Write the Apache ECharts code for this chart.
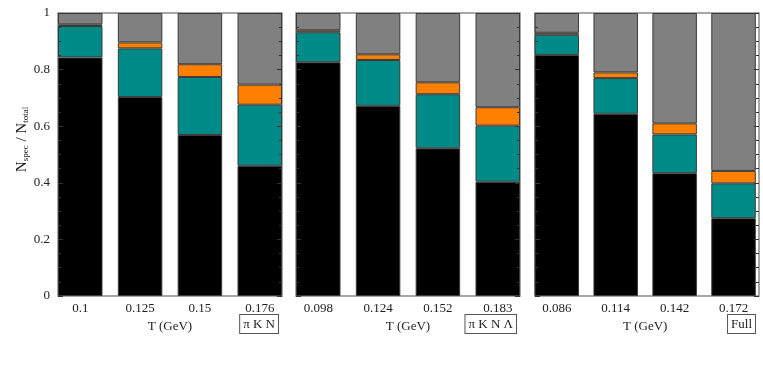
<!DOCTYPE html>
<html><head><meta charset="utf-8">
<script src="https://cdn.jsdelivr.net/npm/echarts@6/dist/echarts.min.js"></script>
<style>html,body{margin:0;padding:0;background:#fff}#c{width:763px;height:382px}</style>
</head><body><div id="c"></div>
<script>
// Temperatures (category labels) per panel
const cats1 = ['0.1', '0.125', '0.15', '0.176'];
const cats2 = ['0.098', '0.124', '0.152', '0.183'];
const cats3 = ['0.086', '0.114', '0.142', '0.172'];
const panelTags = ['π K N', 'π K N Λ', 'Full'];

// Fractions N_spec/N_total (stacked segments, bottom to top)
const black1  = [0.843, 0.703, 0.569, 0.460];
const teal1   = [0.111, 0.172, 0.205, 0.216];
const orange1 = [0.006, 0.021, 0.045, 0.071];
const gray1   = [0.040, 0.104, 0.181, 0.253];

const black2  = [0.826, 0.672, 0.522, 0.404];
const teal2   = [0.106, 0.162, 0.191, 0.198];
const orange2 = [0.007, 0.020, 0.042, 0.065];
const gray2   = [0.061, 0.146, 0.245, 0.333];

const black3  = [0.852, 0.644, 0.434, 0.275];
const teal3   = [0.071, 0.126, 0.137, 0.123];
const orange3 = [0.007, 0.020, 0.039, 0.044];
const gray3   = [0.070, 0.210, 0.390, 0.558];

const yTicks = ['0', '0.2', '0.4', '0.6', '0.8', '1'];

const FONT = 'Liberation Serif';
const lefts = [58, 296, 535];
const W = 224, TOP = 13, H = 283;
const BAR = 44.5;
const BAND = (W - BAR) / 3;          // category spacing so bars are flush with frame
const PAD = (BAND - BAR) / 2;
const allCats = [cats1, cats2, cats3];
const panels = [
  [black1, teal1, orange1, gray1],
  [black2, teal2, orange2, gray2],
  [black3, teal3, orange3, gray3]
];
const colors = ['#000000', '#008b88', '#ff8000', '#808080'];

const grid = [], xAxis = [], yAxis = [], series = [], graphic = [];
lefts.forEach((l, i) => {
  // frame grid (index 2i) carrying the y ticks
  grid.push({left: l, top: TOP, width: W, height: H, show: true, borderColor: '#8a8a8a', borderWidth: 1.5, backgroundColor: 'transparent'});
  // bar grid (index 2i+1)
  grid.push({left: l - PAD, top: TOP, width: BAND * 4, height: H, show: false});

  xAxis.push({type: 'category', gridIndex: 2 * i, data: allCats[i], show: false});
  xAxis.push({
    type: 'category', gridIndex: 2 * i + 1, data: allCats[i],
    axisLine: {show: false}, axisTick: {show: false},
    axisLabel: {fontFamily: FONT, fontSize: 13, color: '#222', margin: 6},
    name: 'T (GeV)', nameLocation: 'middle', nameGap: 22,
    nameTextStyle: {fontFamily: FONT, fontSize: 13, color: '#222'}
  });

  const yBase = {
    type: 'value', gridIndex: 2 * i, min: 0, max: 1, interval: 0.2, z: 5,
    splitLine: {show: false}, axisLine: {show: false},
    axisTick: {show: true, inside: true, length: 5, lineStyle: {color: '#333'}},
    minorTick: {show: true, splitNumber: 4, length: 3, lineStyle: {color: '#333'}}
  };
  yAxis.push(Object.assign({}, yBase, {
    position: 'left',
    axisLabel: {show: i === 0, fontFamily: FONT, fontSize: 13, color: '#222', margin: 8,
      formatter: v => yTicks[Math.round(v * 5)]},
    name: i === 0 ? 'N{s|spec} / N{s|total}' : '',
    nameLocation: 'middle', nameGap: 24, nameRotate: 90,
    nameTextStyle: {fontFamily: FONT, fontSize: 15, color: '#222', padding: [0, 0, 0, 30],
      rich: {s: {fontFamily: FONT, fontSize: 9, color: '#222', padding: [7, 0, 0, 0]}}}
  }));
  yAxis.push(Object.assign({}, yBase, {position: 'right', axisLabel: {show: false}}));
  // hidden y axis for the bar grid (index 3i+2)
  yAxis.push({type: 'value', gridIndex: 2 * i + 1, min: 0, max: 1, interval: 0.2, show: false, splitLine: {show: false}});

  panels[i].forEach((d, k) => {
    series.push({
      type: 'bar', xAxisIndex: 2 * i + 1, yAxisIndex: 3 * i + 2, stack: 'p' + i, data: d,
      barWidth: BAR,
      itemStyle: {color: colors[k], borderColor: '#3a3a3a', borderWidth: 1},
      emphasis: {disabled: true}, animation: false
    });
  });
  graphic.push({
    type: 'text', right: 763 - (l + W - 3), top: 314,
    style: {text: panelTags[i], font: '13px "Liberation Serif"', fill: '#222',
      borderColor: '#555', borderWidth: 1, padding: [3, 3, 2, 3], backgroundColor: '#fff'}
  });
});

const chart = echarts.init(document.getElementById('c'));
chart.setOption({animation: false, grid, xAxis, yAxis, series, graphic});
</script></body></html>
